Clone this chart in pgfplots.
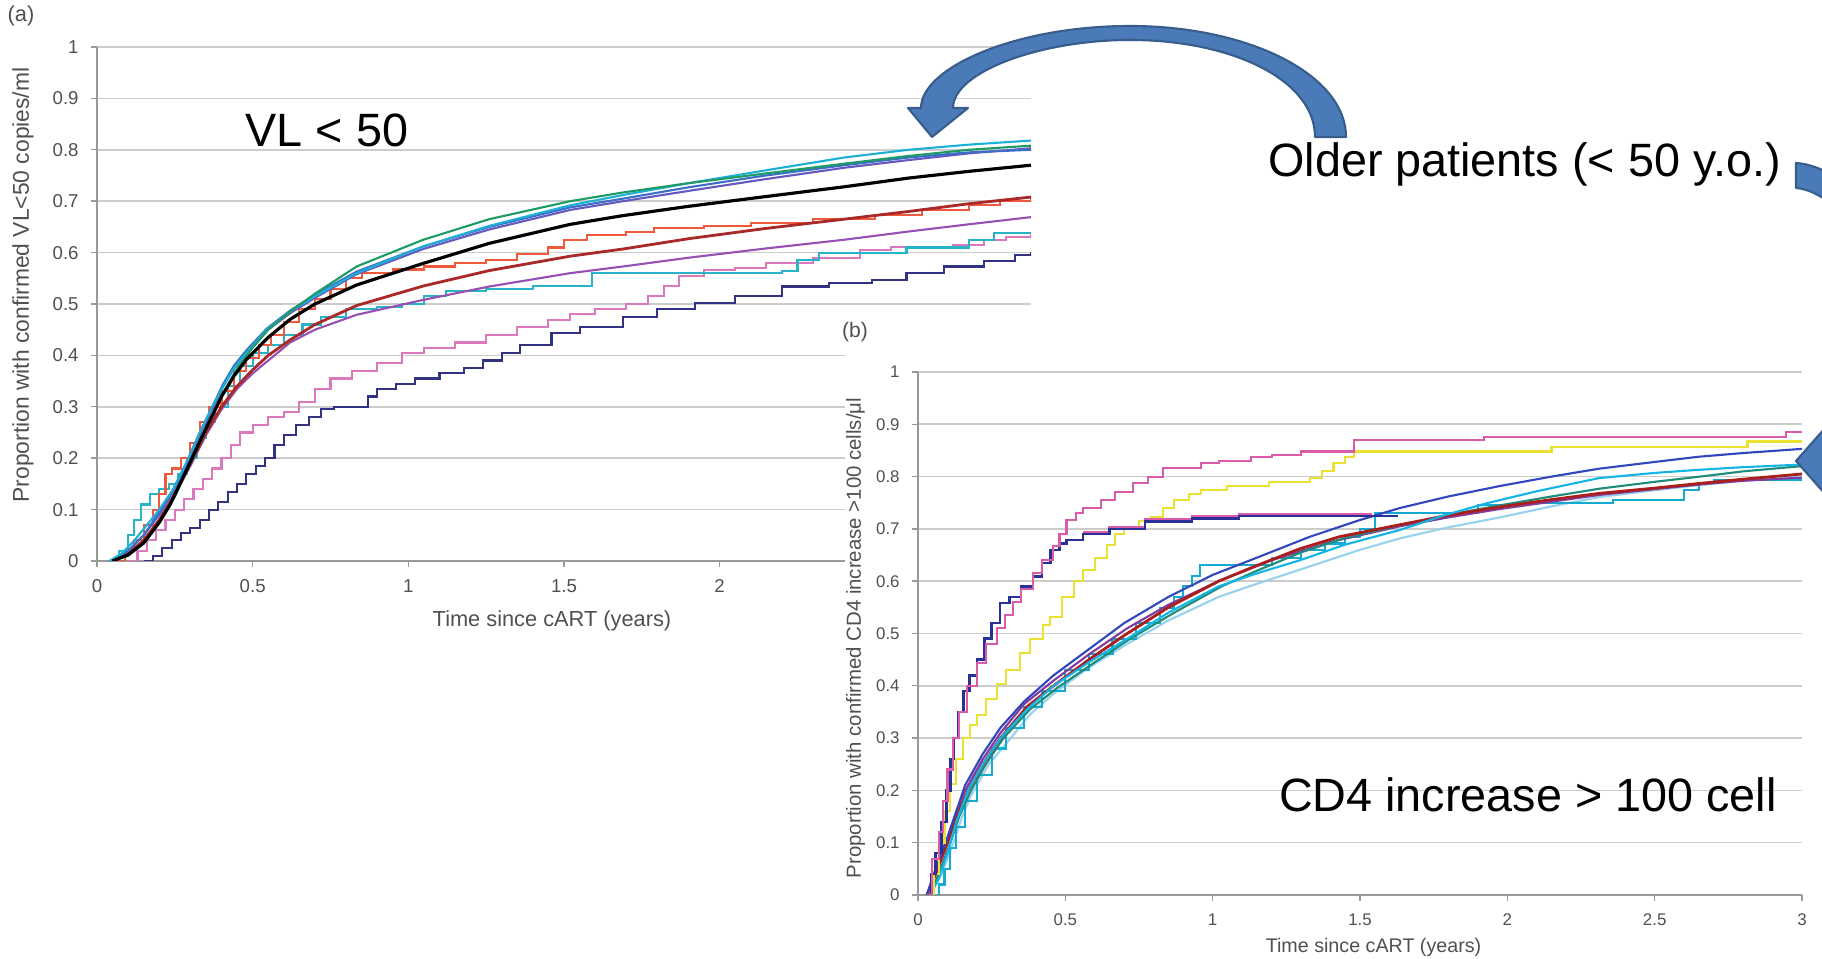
\documentclass[border=0pt]{standalone}
\usepackage{fontspec}
\setmainfont{Liberation Sans}
\usepackage{pgfplots}
\pgfplotsset{compat=1.18}

\definecolor{aGreen}{RGB}{30,155,100}
\definecolor{aCyan}{RGB}{30,175,215}
\definecolor{aBlue}{RGB}{60,110,200}
\definecolor{aSlate}{RGB}{100,90,190}
\definecolor{aOrange}{RGB}{240,90,60}
\definecolor{aDarkred}{RGB}{170,40,40}
\definecolor{aPurple}{RGB}{150,80,180}
\definecolor{aCyanStep}{RGB}{40,180,200}
\definecolor{aPink}{RGB}{220,120,190}
\definecolor{aNavy}{RGB}{50,50,130}
\definecolor{bMagenta}{RGB}{220,90,170}
\definecolor{bNavy}{RGB}{40,50,150}
\definecolor{bYellow}{RGB}{235,225,50}
\definecolor{bBlue}{RGB}{50,70,190}
\definecolor{bDarkred}{RGB}{170,30,30}
\definecolor{bGreen}{RGB}{30,140,120}
\definecolor{bCyan}{RGB}{20,180,230}
\definecolor{bLightCyan}{RGB}{150,210,240}
\definecolor{bPurple}{RGB}{130,60,160}
\definecolor{bCyanStep}{RGB}{20,170,210}
\definecolor{arrowFill}{RGB}{74,122,183}
\definecolor{arrowEdge}{RGB}{56,93,140}
\definecolor{labelGray}{RGB}{80,80,80}

\newcommand\tickfontA{\fontsize{5.3}{6}\selectfont}
\newcommand\tickfontB{\fontsize{4.8}{5.5}\selectfont}
\newcommand\bigfont{\fontsize{13.3}{15}\selectfont}

\pgfplotsset{
  panel/.style={
    scale only axis, xmin=0, xmax=3, ymin=0, ymax=1,
    axis x line*=bottom, axis y line*=left,
    axis line style={draw=gray!80, line width=0.5pt},
    xtick={0,0.5,1,1.5,2,2.5,3},
    ytick={0,0.1,0.2,0.3,0.4,0.5,0.6,0.7,0.8,0.9,1},
    ymajorgrids, major grid style={draw=gray!40, line width=0.45pt},
    tick align=outside, major tick length=0.06cm,
    tick style={draw=gray!80, line width=0.4pt},
    /pgf/number format/assume math mode=true,
    ticklabel style={text=labelGray},
    every axis plot/.append style={line width=0.6pt, mark=none},
  }
}

\begin{document}
\begin{tikzpicture}
\begin{scope}
\clip (0,0) rectangle (18.22,9.59);

% ---------------- Panel (a) ----------------
\begin{axis}[panel, at={(0.97cm,3.98cm)}, anchor=south west,
  width=9.34cm, height=5.14cm, ticklabel style={font=\tickfontA},
  xtick={0,0.5,1,1.5,2}]
% navy step
\addplot[color=aNavy, const plot] coordinates {(0.15,0) (0.18,0.01) (0.21,0.025) (0.24,0.04) (0.27,0.055) (0.3,0.065) (0.33,0.08) (0.36,0.1) (0.39,0.115) (0.42,0.135) (0.45,0.15) (0.48,0.17) (0.51,0.185) (0.54,0.2) (0.57,0.225) (0.6,0.245) (0.64,0.265) (0.68,0.28) (0.72,0.295) (0.76,0.30) (0.84,0.30) (0.87,0.32) (0.9,0.335) (0.96,0.345) (1.02,0.355) (1.1,0.365) (1.18,0.375) (1.24,0.39) (1.3,0.405) (1.36,0.42) (1.46,0.443) (1.55,0.455) (1.69,0.475) (1.8,0.49) (1.92,0.502) (2.05,0.515) (2.2,0.534) (2.35,0.54) (2.49,0.547) (2.6,0.56) (2.72,0.573) (2.85,0.583) (2.95,0.595) (3.0,0.601)};
% pink step
\addplot[color=aPink, const plot] coordinates {(0.1,0) (0.13,0.02) (0.16,0.04) (0.19,0.06) (0.22,0.08) (0.25,0.1) (0.28,0.12) (0.31,0.14) (0.34,0.16) (0.37,0.18) (0.4,0.2) (0.43,0.225) (0.46,0.25) (0.5,0.265) (0.55,0.28) (0.6,0.29) (0.65,0.31) (0.7,0.335) (0.75,0.355) (0.82,0.37) (0.9,0.385) (0.98,0.405) (1.05,0.415) (1.15,0.425) (1.25,0.44) (1.35,0.455) (1.45,0.468) (1.52,0.48) (1.6,0.49) (1.7,0.5) (1.77,0.515) (1.82,0.535) (1.87,0.555) (1.95,0.566) (2.05,0.57) (2.15,0.58) (2.3,0.59) (2.45,0.605) (2.55,0.611) (2.75,0.615) (2.85,0.625) (2.92,0.631) (3.0,0.636)};
% cyan step
\addplot[color=aCyanStep, const plot] coordinates {(0.04,0) (0.07,0.02) (0.1,0.05) (0.12,0.08) (0.14,0.11) (0.17,0.13) (0.2,0.14) (0.23,0.15) (0.26,0.17) (0.29,0.2) (0.32,0.24) (0.35,0.27) (0.38,0.3) (0.42,0.34) (0.46,0.38) (0.5,0.405) (0.55,0.42) (0.6,0.44) (0.66,0.46) (0.72,0.475) (0.8,0.49) (0.9,0.495) (0.98,0.50) (1.05,0.515) (1.12,0.525) (1.25,0.53) (1.4,0.535) (1.586,0.535) (1.59,0.56) (2.2,0.565) (2.25,0.585) (2.32,0.60) (2.6,0.61) (2.8,0.625) (2.88,0.638) (3.0,0.638)};
% purple
\addplot[color=aPurple] coordinates {(0.05,0) (0.1,0.015) (0.15,0.04) (0.2,0.08) (0.25,0.13) (0.3,0.185) (0.35,0.245) (0.4,0.295) (0.45,0.335) (0.5,0.365) (0.55,0.39) (0.62,0.425) (0.7,0.45) (0.834,0.479) (1.048,0.508) (1.26,0.534) (1.52,0.56) (1.69,0.573) (1.9,0.59) (2.148,0.608) (2.4,0.625) (2.607,0.641) (2.8,0.655) (3.0,0.669)};
% orange step
\addplot[color=aOrange, const plot] coordinates {(0.05,0) (0.09,0.02) (0.12,0.04) (0.15,0.07) (0.18,0.1) (0.2,0.13) (0.22,0.17) (0.24,0.18) (0.27,0.2) (0.3,0.23) (0.33,0.27) (0.36,0.3) (0.4,0.33) (0.44,0.37) (0.48,0.395) (0.52,0.42) (0.56,0.44) (0.6,0.465) (0.65,0.49) (0.7,0.51) (0.75,0.53) (0.8,0.55) (0.85,0.56) (0.95,0.567) (1.05,0.573) (1.15,0.58) (1.25,0.586) (1.35,0.598) (1.45,0.61) (1.5,0.625) (1.574,0.634) (1.7,0.64) (1.79,0.648) (1.95,0.652) (2.1,0.657) (2.3,0.665) (2.5,0.673) (2.65,0.683) (2.8,0.693) (2.9,0.70) (3.0,0.709)};
% dark red
\addplot[color=aDarkred, line width=0.8pt] coordinates {(0.05,0) (0.1,0.015) (0.15,0.04) (0.2,0.08) (0.25,0.13) (0.3,0.19) (0.35,0.25) (0.4,0.30) (0.45,0.34) (0.5,0.372) (0.55,0.4) (0.62,0.43) (0.7,0.46) (0.834,0.497) (1.048,0.535) (1.26,0.565) (1.52,0.593) (1.69,0.607) (1.9,0.627) (2.148,0.647) (2.4,0.665) (2.607,0.68) (2.8,0.695) (3.0,0.708)};
% slate
\addplot[color=aSlate] coordinates {(0.05,0) (0.1,0.02) (0.15,0.05) (0.2,0.09) (0.245,0.135) (0.29,0.19) (0.33,0.245) (0.37,0.295) (0.406,0.34) (0.44,0.375) (0.48,0.405) (0.545,0.448) (0.62,0.482) (0.7,0.512) (0.834,0.558) (1.048,0.607) (1.26,0.645) (1.52,0.683) (1.69,0.70) (1.9,0.72) (2.148,0.743) (2.4,0.765) (2.607,0.78) (2.8,0.793) (3.0,0.803)};
% blue
\addplot[color=aBlue] coordinates {(0.05,0) (0.1,0.02) (0.15,0.05) (0.2,0.095) (0.245,0.14) (0.29,0.195) (0.33,0.25) (0.37,0.30) (0.406,0.345) (0.44,0.38) (0.48,0.41) (0.545,0.452) (0.62,0.487) (0.7,0.518) (0.834,0.563) (1.048,0.612) (1.26,0.65) (1.52,0.688) (1.69,0.705) (1.9,0.727) (2.148,0.75) (2.4,0.77) (2.607,0.785) (2.8,0.795) (3.0,0.80)};
% cyan
\addplot[color=aCyan] coordinates {(0.04,0) (0.08,0.015) (0.12,0.04) (0.16,0.07) (0.2,0.10) (0.245,0.14) (0.29,0.195) (0.33,0.25) (0.37,0.30) (0.406,0.34) (0.44,0.375) (0.48,0.405) (0.545,0.45) (0.62,0.485) (0.7,0.515) (0.834,0.56) (1.048,0.612) (1.26,0.652) (1.52,0.692) (1.69,0.712) (1.9,0.735) (2.148,0.76) (2.4,0.785) (2.607,0.80) (2.8,0.81) (3.0,0.818)};
% green
\addplot[color=aGreen] coordinates {(0.05,0) (0.1,0.01) (0.15,0.035) (0.2,0.075) (0.25,0.125) (0.3,0.19) (0.35,0.255) (0.4,0.32) (0.45,0.375) (0.5,0.415) (0.55,0.45) (0.62,0.485) (0.7,0.52) (0.834,0.573) (1.048,0.625) (1.26,0.665) (1.52,0.70) (1.69,0.717) (1.9,0.735) (2.148,0.754) (2.4,0.773) (2.607,0.788) (2.8,0.80) (3.0,0.808)};
% black
\addplot[color=black, line width=0.9pt] coordinates {(0.05,0) (0.1,0.012) (0.15,0.035) (0.2,0.075) (0.235,0.11) (0.29,0.18) (0.34,0.245) (0.4,0.32) (0.44,0.36) (0.48,0.392) (0.55,0.435) (0.62,0.47) (0.7,0.5) (0.834,0.537) (1.048,0.579) (1.26,0.618) (1.52,0.655) (1.69,0.672) (1.9,0.69) (2.148,0.709) (2.4,0.728) (2.607,0.745) (2.8,0.758) (3.0,0.77)};
\end{axis}

\node[font=\fontsize{6.2}{7}\selectfont, text=labelGray] at (5.52,3.38) {Time since cART (years)};
\node[font=\fontsize{6.5}{7}\selectfont, text=labelGray, rotate=90] at (0.23,6.74) {Proportion with confirmed VL<50 copies/ml};
\node[font=\fontsize{6.2}{7}\selectfont, text=labelGray] at (0.21,9.43) {(a)};
\node[font=\bigfont, anchor=base] at (3.27,8.12) {VL < 50};

% white panel behind (b)
\fill[white] (8.45,-0.1) rectangle (18.4,6.44);
\node[font=\fontsize{6.0}{7}\selectfont, text=labelGray] at (8.55,6.27) {(b)};

% ---------------- Panel (b) ----------------
\begin{axis}[panel, at={(9.18cm,0.64cm)}, anchor=south west,
  width=8.84cm, height=5.23cm, ticklabel style={font=\tickfontB}]
% light cyan
\addplot[color=bLightCyan] coordinates {(0.04,0) (0.08,0.04) (0.12,0.10) (0.15,0.15) (0.18,0.19) (0.24,0.25) (0.3,0.29) (0.38,0.345) (0.46,0.385) (0.58,0.435) (0.71,0.48) (0.85,0.525) (1.02,0.57) (1.15,0.595) (1.296,0.622) (1.5,0.66) (1.636,0.682) (1.8,0.703) (1.975,0.722) (2.15,0.743) (2.314,0.761) (2.5,0.774) (2.654,0.784) (2.8,0.792) (3.0,0.80)};
% cyan step
\addplot[color=bCyanStep, const plot] coordinates {(0.05,0) (0.07,0.02) (0.09,0.05) (0.11,0.09) (0.13,0.13) (0.16,0.18) (0.2,0.23) (0.25,0.28) (0.3,0.32) (0.36,0.36) (0.42,0.39) (0.5,0.43) (0.58,0.46) (0.66,0.49) (0.74,0.52) (0.82,0.548) (0.87,0.57) (0.9,0.59) (0.93,0.61) (0.957,0.631) (1.13,0.631) (1.2,0.645) (1.3,0.66) (1.38,0.672) (1.45,0.685) (1.5,0.70) (1.55,0.73) (1.81,0.73) (1.9,0.745) (2.05,0.75) (2.36,0.755) (2.57,0.755) (2.6,0.775) (2.65,0.787) (2.7,0.793) (3.0,0.793)};
% purple
\addplot[color=bPurple] coordinates {(0.03,0) (0.06,0.05) (0.1,0.11) (0.13,0.16) (0.16,0.20) (0.22,0.26) (0.28,0.31) (0.36,0.365) (0.46,0.41) (0.58,0.46) (0.71,0.51) (0.85,0.555) (1.02,0.60) (1.2,0.64) (1.4,0.675) (1.636,0.705) (1.8,0.722) (1.975,0.738) (2.15,0.752) (2.314,0.765) (2.5,0.776) (2.654,0.785) (2.8,0.792) (3.0,0.798)};
% green
\addplot[color=bGreen] coordinates {(0.04,0) (0.07,0.04) (0.11,0.10) (0.14,0.15) (0.18,0.20) (0.23,0.25) (0.29,0.30) (0.38,0.355) (0.47,0.395) (0.6,0.445) (0.72,0.49) (0.87,0.54) (1.03,0.59) (1.15,0.62) (1.3,0.655) (1.45,0.683) (1.636,0.707) (1.8,0.727) (1.975,0.745) (2.15,0.762) (2.314,0.777) (2.5,0.79) (2.654,0.80) (2.8,0.81) (3.0,0.82)};
% dark red
\addplot[color=bDarkred, line width=0.8pt] coordinates {(0.03,0) (0.06,0.04) (0.1,0.10) (0.13,0.15) (0.17,0.20) (0.22,0.25) (0.28,0.30) (0.37,0.36) (0.46,0.40) (0.58,0.45) (0.71,0.50) (0.85,0.55) (1.02,0.60) (1.15,0.63) (1.296,0.662) (1.43,0.685) (1.636,0.708) (1.8,0.726) (1.975,0.742) (2.15,0.756) (2.314,0.768) (2.5,0.778) (2.654,0.787) (2.8,0.795) (3.0,0.805)};
% cyan
\addplot[color=bCyan] coordinates {(0.04,0) (0.07,0.03) (0.1,0.08) (0.13,0.14) (0.17,0.20) (0.22,0.25) (0.28,0.30) (0.37,0.355) (0.46,0.40) (0.58,0.445) (0.71,0.49) (0.85,0.54) (1.02,0.59) (1.15,0.615) (1.296,0.64) (1.45,0.67) (1.636,0.698) (1.78,0.725) (1.93,0.749) (2.1,0.772) (2.31,0.797) (2.5,0.807) (2.65,0.813) (2.8,0.818) (3.0,0.823)};
% blue
\addplot[color=bBlue] coordinates {(0.03,0) (0.06,0.05) (0.1,0.11) (0.13,0.16) (0.16,0.21) (0.22,0.27) (0.28,0.32) (0.36,0.37) (0.46,0.42) (0.58,0.47) (0.7,0.52) (0.85,0.57) (1.0,0.612) (1.15,0.645) (1.33,0.685) (1.5,0.717) (1.636,0.74) (1.8,0.762) (1.975,0.782) (2.15,0.80) (2.31,0.815) (2.5,0.828) (2.65,0.838) (2.8,0.845) (3.0,0.853)};
% yellow
\addplot[color=bYellow, const plot] coordinates {(0.04,0) (0.055,0.04) (0.07,0.10) (0.09,0.16) (0.109,0.213) (0.13,0.26) (0.154,0.30) (0.175,0.325) (0.2,0.345) (0.23,0.375) (0.267,0.404) (0.3,0.43) (0.346,0.463) (0.38,0.49) (0.425,0.516) (0.447,0.532) (0.49,0.57) (0.53,0.60) (0.56,0.621) (0.6,0.645) (0.64,0.67) (0.67,0.69) (0.70,0.701) (0.75,0.715) (0.79,0.723) (0.83,0.74) (0.87,0.755) (0.92,0.766) (0.96,0.774) (1.05,0.782) (1.19,0.79) (1.33,0.797) (1.37,0.81) (1.41,0.826) (1.45,0.838) (1.48,0.848) (2.145,0.848) (2.15,0.856) (2.81,0.856) (2.815,0.867) (3.0,0.867)};
% magenta (second, along navy plateau)
\addplot[color=bMagenta, const plot] coordinates {(0.56,0.694) (0.65,0.704) (0.77,0.718) (0.93,0.725) (1.09,0.729) (1.54,0.729)};
% navy
\addplot[color=bNavy, const plot, line width=0.7pt] coordinates {(0.03,0) (0.045,0.04) (0.06,0.08) (0.08,0.14) (0.097,0.2) (0.11,0.26) (0.12,0.30) (0.135,0.35) (0.154,0.39) (0.175,0.42) (0.2,0.45) (0.225,0.49) (0.25,0.52) (0.278,0.558) (0.31,0.57) (0.35,0.59) (0.391,0.609) (0.42,0.635) (0.45,0.66) (0.48,0.672) (0.504,0.679) (0.56,0.69) (0.65,0.70) (0.77,0.714) (0.93,0.72) (1.09,0.725) (1.63,0.725)};
% magenta top
\addplot[color=bMagenta, const plot] coordinates {(0.03,0) (0.046,0.068) (0.07,0.12) (0.086,0.18) (0.1,0.24) (0.12,0.30) (0.14,0.35) (0.165,0.40) (0.2,0.443) (0.23,0.48) (0.267,0.51) (0.295,0.535) (0.323,0.56) (0.35,0.585) (0.391,0.615) (0.42,0.64) (0.459,0.667) (0.48,0.69) (0.504,0.717) (0.535,0.73) (0.561,0.74) (0.62,0.755) (0.67,0.77) (0.73,0.788) (0.78,0.80) (0.83,0.816) (0.96,0.826) (1.02,0.83) (1.13,0.838) (1.2,0.842) (1.3,0.848) (1.477,0.848) (1.48,0.87) (1.91,0.87) (1.92,0.876) (2.94,0.876) (2.945,0.886) (3.0,0.886)};
\end{axis}

\node[font=\fontsize{5.6}{7}\selectfont, text=labelGray] at (13.735,0.12) {Time since cART (years)};
\node[font=\fontsize{5.8}{7}\selectfont, text=labelGray, rotate=90] at (8.555,3.21) {Proportion with confirmed CD4 increase >100 cells/μl};

\node[font=\bigfont, anchor=base] at (15.245,7.823) {Older patients (< 50 y.o.)};
\node[font=\bigfont, anchor=base] at (15.278,1.473) {CD4 increase > 100 cell};

% curved arrow
\filldraw[fill=arrowFill, draw=arrowEdge, line width=0.6pt, line join=round]
  (13.46,8.22) .. controls (13.46,8.84) and (12.49,9.33) .. (11.30,9.33)
  .. controls (10.15,9.33) and (9.21,8.91) .. (9.21,8.51)
  -- (9.08,8.51) -- (9.32,8.22) -- (9.68,8.51) -- (9.53,8.51)
  .. controls (9.53,8.87) and (10.40,9.19) .. (11.30,9.19)
  .. controls (12.32,9.19) and (13.15,8.79) .. (13.15,8.22) -- cycle;
% second arrow, cut by the right edge
\filldraw[fill=arrowFill, draw=arrowEdge, line width=0.6pt, line join=round]
  (17.96,7.96) .. controls (18.10,7.95) and (18.22,7.90) .. (18.40,7.80)
  -- (18.40,7.50) .. controls (18.22,7.62) and (18.10,7.70) .. (17.96,7.71) -- cycle;
\filldraw[fill=arrowFill, draw=arrowEdge, line width=0.6pt, line join=round]
  (17.96,4.98) -- (18.26,5.32) -- (18.26,5.15) -- (18.40,5.15) -- (18.40,4.80) -- (18.26,4.80) -- (18.26,4.64) -- cycle;
\end{scope}
\pgfresetboundingbox
\path[use as bounding box] (0,0) rectangle (18.22,9.59);
\end{tikzpicture}
\end{document}
